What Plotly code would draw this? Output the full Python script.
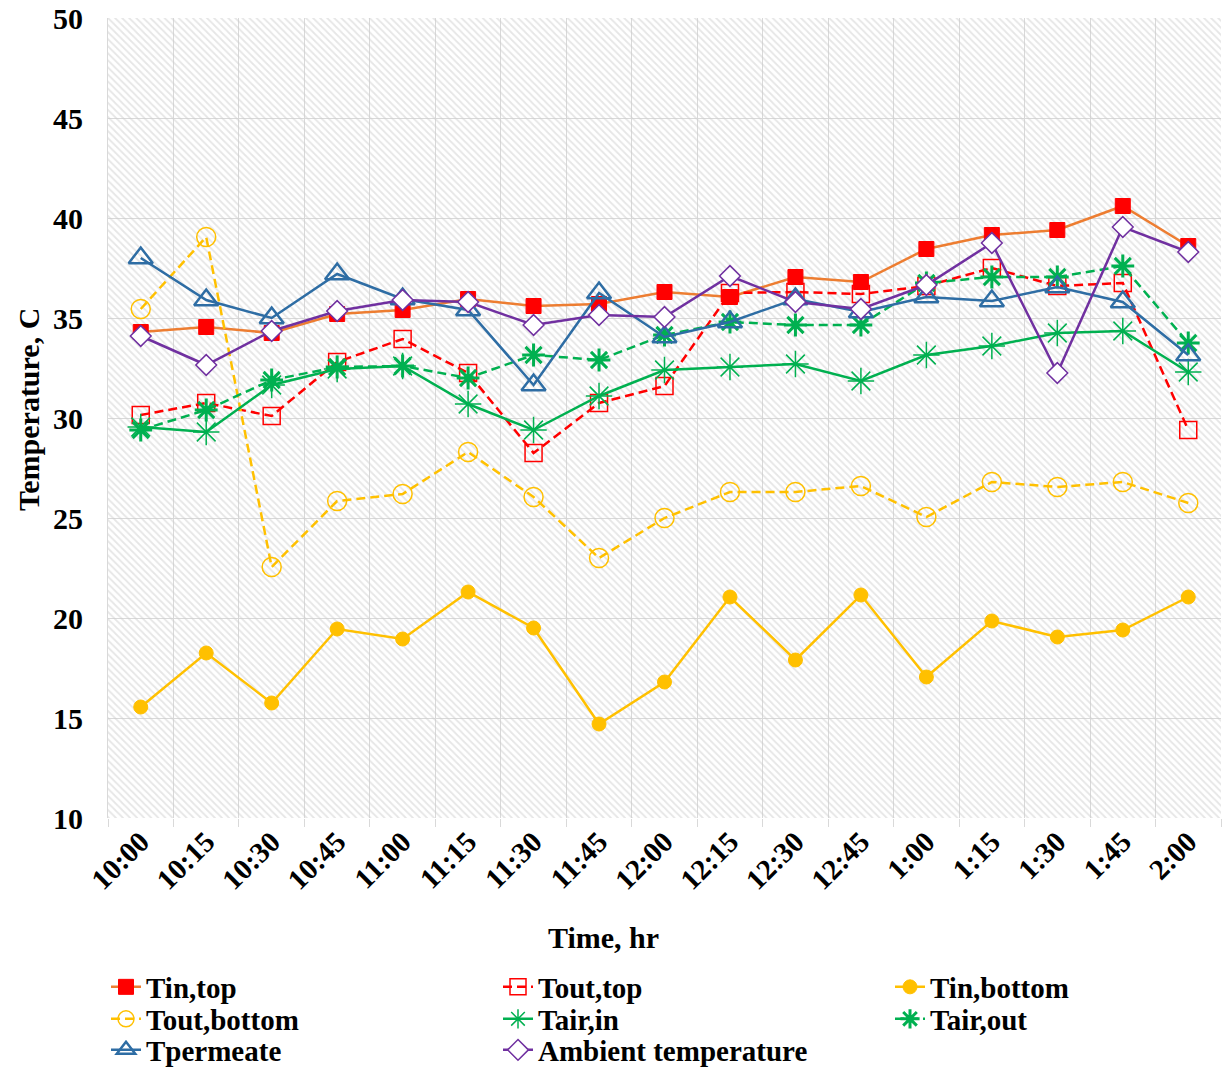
import plotly.graph_objects as go

# Sampling times (15-minute intervals)
times = ["10:00", "10:15", "10:30", "10:45", "11:00", "11:15", "11:30", "11:45",
         "12:00", "12:15", "12:30", "12:45", "1:00", "1:15", "1:30", "1:45", "2:00"]

# Temperatures, C
tin_top = [34.3, 34.55, 34.25, 35.2, 35.4, 35.95, 35.6, 35.7, 36.3, 36.05, 37.05,
           36.8, 38.45, 39.15, 39.4, 40.6, 38.6]
tout_top = [30.15, 30.75, 30.1, 32.8, 33.95, 32.25, 28.25, 30.75, 31.6, 36.25, 36.3,
            36.2, 36.6, 37.5, 36.6, 36.75, 29.4]
tin_bottom = [15.55, 18.25, 15.75, 19.45, 18.95, 21.3, 19.5, 14.7, 16.8, 21.05, 17.9,
              21.15, 17.05, 19.85, 19.05, 19.4, 21.05]
tout_bottom = [35.45, 39.05, 22.55, 25.85, 26.2, 28.3, 26.05, 23.0, 25.0, 26.3, 26.3,
               26.6, 25.05, 26.8, 26.55, 26.8, 25.75]
tair_in = [29.55, 29.3, 31.65, 32.45, 32.6, 30.7, 29.4, 31.1, 32.4, 32.55, 32.7,
           31.85, 33.15, 33.6, 34.25, 34.35, 32.3]
tair_out = [29.4, 30.4, 31.9, 32.55, 32.6, 32.0, 33.15, 32.9, 34.15, 34.8, 34.65,
            34.65, 36.75, 37.05, 37.05, 37.6, 33.75]
tpermeate = [38.0, 35.9, 35.0, 37.2, 35.95, 35.4, 31.65, 36.25, 34.05, 34.8, 35.95,
             35.3, 36.05, 35.85, 36.55, 35.8, 33.15]
ambient = [34.1, 32.65, 34.35, 35.35, 35.9, 35.8, 34.65, 35.15, 35.05, 37.1, 35.8,
           35.45, 36.65, 38.75, 32.25, 39.55, 38.3]

y_min, y_max = 10, 50

FONT = "Liberation Serif"
GRID = "#D9D9D9"
W, H = 1222, 1069
M_L, M_R, M_T, M_B = 108, 1, 18, 251
PLOT_W = W - M_L - M_R
PLOT_H = H - M_T - M_B


def px_x(x):
    """Horizontal pixel position -> paper coordinate."""
    return (x - M_L) / PLOT_W


def px_y(y):
    """Vertical pixel position -> paper coordinate."""
    return (H - M_B - y) / PLOT_H


fig = go.Figure()

# Hatched plot-area background: one bar spanning every category
fig.add_trace(go.Bar(
    x=[times[len(times) // 2]], y=[y_max - y_min], base=[y_min], width=[len(times)],
    marker=dict(color="rgba(255,255,255,0)", line=dict(width=0),
                pattern=dict(shape="\\", fgcolor="#CDCDCD", bgcolor="rgba(255,255,255,0)",
                             size=5, solidity=0.35)),
    showlegend=False, hoverinfo="skip"))

DASH = "9px,5px"
series = [
    ("Tin,top", tin_top, dict(color="#ED7D31", width=2.5, dash="solid"),
     dict(symbol="square", size=15, color="#FF0000", line=dict(color="#FF0000", width=1))),
    ("Tout,top", tout_top, dict(color="#FF0000", width=2.5, dash=DASH),
     dict(symbol="square-open", size=17, color="#FF0000", line=dict(width=1.5))),
    ("Tin,bottom", tin_bottom, dict(color="#FFC000", width=2.5, dash="solid"),
     dict(symbol="circle", size=14, color="#FFC000", line=dict(color="#FFC000", width=1))),
    ("Tout,bottom", tout_bottom, dict(color="#FFC000", width=2.5, dash=DASH),
     dict(symbol="circle-open", size=19, color="#FFC000", line=dict(width=1.5))),
    ("Tair,in", tair_in, dict(color="#00B050", width=2.5, dash="solid"),
     dict(symbol="asterisk-open", size=22, color="#00B050", line=dict(color="#00B050", width=1.5))),
    ("Tair,out", tair_out, dict(color="#00B050", width=2.5, dash=DASH),
     dict(symbol="asterisk-open", size=19, color="#00B050", line=dict(color="#00B050", width=3))),
    ("Tpermeate", tpermeate, dict(color="#2E6DA4", width=2.5, dash="solid"),
     dict(symbol="triangle-up-open", size=21, color="#2E6DA4", line=dict(width=2.5))),
    ("Ambient temperature", ambient, dict(color="#7030A0", width=2.5, dash="solid"),
     dict(symbol="diamond", size=16, color="#FFFFFF", line=dict(color="#7030A0", width=1.5))),
]

# Legend grid: three columns (text start x) and three rows (centre y), in pixels
legend_cols = [148, 540, 932]
legend_rows = [987, 1019, 1050]
LEGEND_TEXT_OFFSET = 42

layout_legends = {}
for i, (name, vals, line, marker) in enumerate(series):
    key = "legend" if i == 0 else f"legend{i + 1}"
    fig.add_trace(go.Scatter(x=times, y=vals, name=name, mode="lines+markers",
                             line=line, marker=marker, legend=key))
    col, row = i % 3, i // 3
    layout_legends[key] = dict(
        x=px_x(legend_cols[col] - LEGEND_TEXT_OFFSET), xanchor="left",
        y=px_y(legend_rows[row]), yanchor="middle",
        orientation="v", bgcolor="rgba(0,0,0,0)", borderwidth=0,
        font=dict(family=FONT, size=29, color="black", weight="bold"))

fig.update_layout(
    width=W, height=H,
    margin=dict(l=M_L, r=M_R, t=M_T, b=M_B, autoexpand=False),
    paper_bgcolor="white", plot_bgcolor="white",
    font=dict(family=FONT, size=29, color="black", weight="bold"),
    showlegend=True,
    bargap=0,
    **layout_legends,
)

fig.update_xaxes(
    type="category", categoryorder="array", categoryarray=times,
    range=[-0.5, len(times) - 0.5],
    tickson="boundaries", ticks="outside", ticklen=8, tickcolor=GRID,
    showgrid=True, gridcolor=GRID, gridwidth=1,
    showline=False, tickangle=-45, automargin=False,
    tickfont=dict(family=FONT, size=29, weight="bold"),
)
fig.update_yaxes(
    range=[y_min, y_max], dtick=5, tick0=y_min,
    showgrid=True, gridcolor=GRID, gridwidth=1, zeroline=False,
    showline=True, linecolor=GRID, linewidth=1, automargin=False,
    ticklabelstandoff=18,
    tickfont=dict(family=FONT, size=30, weight="bold"),
)

# Axis titles
fig.add_annotation(text="Time, hr", xref="paper", yref="paper",
                   x=px_x(603), y=px_y(938), xanchor="center", yanchor="middle",
                   showarrow=False, font=dict(family=FONT, size=30, weight="bold"))
fig.add_annotation(text="Temperature, C", xref="paper", yref="paper",
                   x=px_x(28), y=px_y(410), xanchor="center", yanchor="middle",
                   textangle=-90, showarrow=False,
                   font=dict(family=FONT, size=30, weight="bold"))

fig.write_html("out.html")
